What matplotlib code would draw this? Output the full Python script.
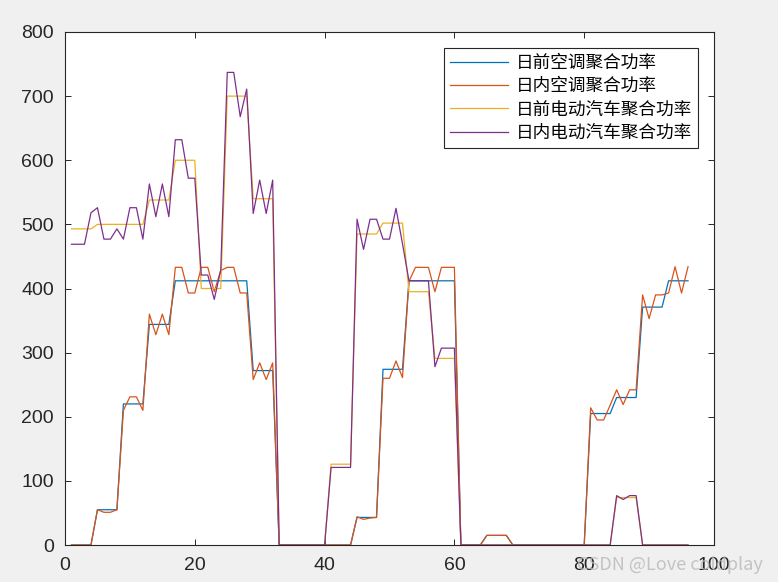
import matplotlib
matplotlib.use("Agg")
import matplotlib.pyplot as plt
import numpy as np

x = list(range(1, 97))

ac_dayahead = ([0]*4 + [55]*4 + [220]*4 + [344]*4 + [412]*12 + [272]*4 + [0]*12 +
               [43]*4 + [274]*4 + [412]*8 + [0]*4 + [15]*4 + [0]*12 +
               [205]*4 + [230]*4 + [371]*4 + [412]*4)

ac_intraday = ([0]*4 + [55, 51, 51, 55] + [210, 231, 231, 210] + [360, 328, 360, 328] +
               [433, 433, 393, 393, 433, 433, 395, 428, 433, 433, 393, 393] +
               [258, 284, 258, 284] + [0]*12 + [44, 40, 42, 43] + [260, 260, 287, 261] +
               [411, 433, 433, 433, 395, 433, 433, 433] + [0]*4 + [15]*4 + [0]*12 +
               [214, 195, 195, 218, 242, 219, 242, 242] +
               [390, 353, 390, 390, 393, 434, 393, 434])

ev_dayahead = ([493]*4 + [500]*8 + [538]*4 + [600]*4 + [400]*4 + [700]*4 + [540]*4 +
               [0]*8 + [126]*4 + [485]*4 + [502]*4 + [395]*4 + [291]*4 + [0]*24 +
               [74]*4 + [0]*8)

ev_intraday = ([469, 469, 469, 518, 526, 477, 477, 493, 477, 526, 526, 477,
                563, 512, 563, 512, 632, 632, 572, 572, 421, 421, 383, 429,
                737, 737, 668, 711, 517, 569, 517, 569] +
               [0]*8 + [121]*4 +
               [508, 461, 508, 508, 477, 477, 525, 470, 412, 412, 412, 412, 278, 307, 307, 307] +
               [0]*24 + [77, 71, 77, 77] + [0]*8)

labels = ["日前空调聚合功率", "日内空调聚合功率", "日前电动汽车聚合功率", "日内电动汽车聚合功率"]
colors = ["#0072BD", "#D95319", "#EDB120", "#7E2F8E"]
series = [ac_dayahead, ac_intraday, ev_dayahead, ev_intraday]

fig = plt.figure(figsize=(7.78, 5.82), dpi=100, facecolor="#f0f0f0")
ax = fig.add_axes([65/778, 37/582, 649/778, 513/582])
ax.set_facecolor("white")

for s, c, l in zip(series, colors, labels):
    ax.plot(x, s, color=c, lw=0.9, label=l)

ax.set_xlim(0, 100)
ax.set_ylim(0, 800)
ax.set_xticks(range(0, 101, 20))
ax.set_yticks(range(0, 801, 100))
ax.tick_params(direction="in", length=4, width=0.7, colors="#262626",
               top=True, right=True, labelsize=14)
ax.tick_params(axis="y", pad=8)
ax.tick_params(axis="x", pad=9)
for lab in ax.get_xticklabels() + ax.get_yticklabels():
    lab.set_fontfamily("Liberation Sans")
for sp in ax.spines.values():
    sp.set_color("#262626")
    sp.set_linewidth(0.8)

leg = ax.legend(loc="upper right", bbox_to_anchor=((698-65)/649, (545-48)/513),
                borderaxespad=0, prop={"family": ["Noto Sans CJK SC", "DejaVu Sans"], "size": 12.7},
                handlelength=3.3, handletextpad=0.45, labelspacing=0.3,
                fancybox=False, framealpha=1, edgecolor="#262626", borderpad=0.33)
leg.get_frame().set_linewidth(0.8)

fig.text(0.98, 0.029, "CSDN @Love coldplay", ha="right", va="center",
         fontsize=13, color="#b8b8b8", alpha=0.8, family=["Noto Sans CJK SC", "DejaVu Sans"])

fig.savefig("out.png", dpi=100, facecolor=fig.get_facecolor())
